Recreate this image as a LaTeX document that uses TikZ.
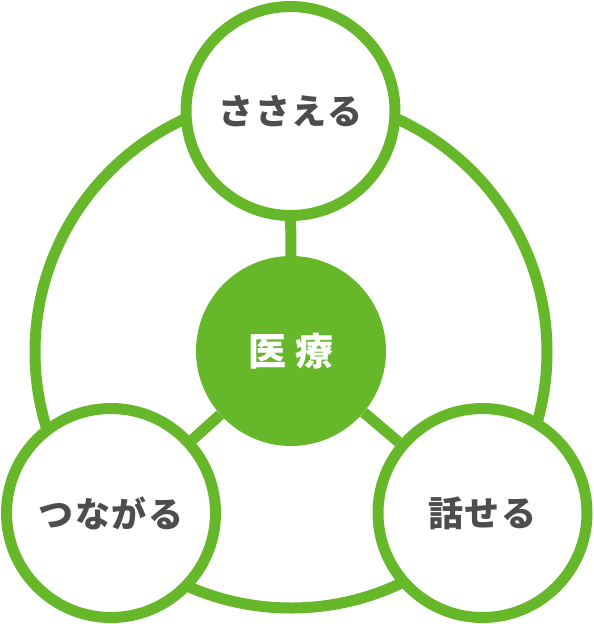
\documentclass[tikz,border=0pt]{standalone}
\usepackage{fontspec}
\usetikzlibrary{backgrounds}
\newfontfamily\jpfont{Noto Sans CJK JP}
\definecolor{leaf}{HTML}{67B72B}
\definecolor{ink}{HTML}{4D4D4D}

\begin{document}
\begin{tikzpicture}[x=1pt, y=-1pt,
    ring/.style={circle, draw=leaf, line width=11pt, inner sep=0pt, minimum size=#1},
    outer/.style={ring=209pt, fill=white, text=ink, font=\jpfont\bfseries\fontsize{35}{35}\selectfont\addfontfeature{LetterSpace=4}},
    hub/.style={circle, fill=leaf, inner sep=0pt, minimum size=190pt, text=white, font=\jpfont\bfseries\fontsize{38}{38}\selectfont},
    link/.style={draw=leaf, line width=11pt}]
    \useasboundingbox (0,0) rectangle (594,624);

    % Draw nodes
    \node[hub] (iryo) at (291,351) {医\hspace{9pt}療};
    \node[outer] (sasaeru) at (290.5,111) {ささえる};
    \node[outer] (tsunagaru) at (111,513) {つながる};
    \node[outer] (hanaseru) at (482.5,513) {話せる};

    % Draw ring and connections behind the nodes
    \begin{scope}[on background layer]
        \node[ring=512pt] (loop) at (291,352) {};
        \draw[link] (iryo) -- (sasaeru);
        \draw[link] (iryo) -- (tsunagaru);
        \draw[link] (iryo) -- (hanaseru);
    \end{scope}
\end{tikzpicture}
\end{document}
